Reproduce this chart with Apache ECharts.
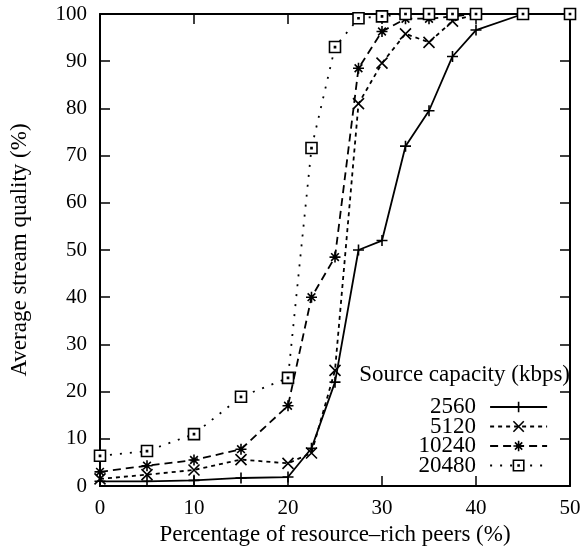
<!DOCTYPE html>
<html>
<head>
<meta charset="utf-8">
<script src="https://cdn.jsdelivr.net/npm/echarts@6/dist/echarts.min.js"></script>
<style>html,body{margin:0;padding:0;background:#fff}#c{width:587px;height:555px}</style>
</head>
<body>
<div id="c"></div>
<script>
const xValues = [0, 5, 10, 15, 20, 22.5, 25, 27.5, 30, 32.5, 35, 37.5, 40, 45, 50];
const s2560  = [1.0, 1.0, 1.2, 1.7, 1.9, 8.0, 22.0, 50.0, 52.0, 72.0, 79.5, 91.0, 96.6, 100, 100];
const s5120  = [1.5, 2.4, 3.4, 5.6, 4.8, 7.0, 24.5, 81.0, 89.6, 95.8, 94.0, 98.5, 100, 100, 100];
const s10240 = [3.0, 4.3, 5.5, 7.8, 17.0, 40.0, 48.5, 88.5, 96.3, 99.0, 99.0, 99.5, 100, 100, 100];
const s20480 = [6.4, 7.4, 11.0, 18.9, 22.9, 71.6, 93.0, 99.1, 99.5, 100, 100, 100, 100, 100, 100];
const seriesNames = ['2560', '5120', '10240', '20480'];
const xTicks = [0, 10, 20, 30, 40, 50];
const yTicks = [0, 10, 20, 30, 40, 50, 60, 70, 80, 90, 100];
const xTitle = 'Percentage of resource\u2013rich peers (%)';
const yTitle = 'Average stream quality (%)';
const legendTitle = 'Source capacity (kbps)';

const FONT = 'Liberation Serif';
const symbols = [
  'path://M0,5L10,5M5,0L5,10',
  'path://M0,0L10,10M10,0L0,10',
  'path://M0,5L10,5M5,0L5,10M1.5,1.5L8.5,8.5M8.5,1.5L1.5,8.5',
  'path://M0,0L10,0L10,10L0,10ZM4.5,4.5L5.5,4.5L5.5,5.5L4.5,5.5Z'
];
const dashes = ['solid', [4, 4], [8, 5], [2, 8]];
const allData = [s2560, s5120, s10240, s20480];

const chart = echarts.init(document.getElementById('c'), null, {renderer: 'canvas'});

const series = seriesNames.map((n, i) => ({
  name: n,
  type: 'line',
  data: xValues.map((x, j) => [x, allData[i][j]]),
  symbol: symbols[i],
  symbolSize: 11,
  clip: false,
  animation: false,
  lineStyle: {color: '#000', width: 1.8, type: dashes[i]},
  itemStyle: {color: '#fff', borderColor: '#000', borderWidth: 1.6},
  emphasis: {disabled: true}
}));

const legendCenters = [407, 426.5, 446, 465.5];
const legends = seriesNames.map((n, i) => ({
  data: [n],
  orient: 'horizontal',
  align: 'right',
  right: 39,
  top: legendCenters[i] - 11.5,
  padding: 0,
  itemWidth: 57,
  itemHeight: 13,
  selectedMode: false,
  textStyle: {fontFamily: FONT, fontSize: 23, color: '#000', padding: [0, 9, 0, 0]},
  lineStyle: {color: '#000', width: 1.8, type: dashes[i]},
  itemStyle: {color: '#fff', borderColor: '#000', borderWidth: 1.6}
}));

const axisCommon = {
  type: 'value',
  axisLine: {show: true, onZero: false, lineStyle: {color: '#000', width: 2}},
  axisTick: {show: true, inside: true, length: 10, lineStyle: {color: '#000', width: 1.5}},
  splitLine: {show: false},
  axisLabel: {fontFamily: FONT, fontSize: 21, color: '#000'}
};

chart.setOption({
  animation: false,
  backgroundColor: '#fff',
  grid: {left: 99, right: 17, top: 14, bottom: 69, containLabel: false},
  xAxis: [
    Object.assign({}, axisCommon, {
      position: 'bottom', min: 0, max: 50, interval: 10,
      name: xTitle, nameLocation: 'middle', nameGap: 37,
      nameTextStyle: {fontFamily: FONT, fontSize: 23, color: '#000'},
      axisLabel: Object.assign({}, axisCommon.axisLabel, {margin: 12, formatter: v => xTicks.includes(v) ? String(v) : ''})
    }),
    Object.assign({}, axisCommon, {
      position: 'top', min: 0, max: 50, interval: 10,
      axisLabel: {show: false}
    })
  ],
  yAxis: [
    Object.assign({}, axisCommon, {
      position: 'left', min: 0, max: 100, interval: 10,
      name: yTitle, nameLocation: 'middle', nameGap: 69,
      nameTextStyle: {fontFamily: FONT, fontSize: 23, color: '#000'},
      axisLabel: Object.assign({}, axisCommon.axisLabel, {margin: 13, formatter: v => yTicks.includes(v) ? String(v) : ''})
    }),
    Object.assign({}, axisCommon, {
      position: 'right', min: 0, max: 100, interval: 10,
      axisLabel: {show: false}
    })
  ],
  legend: legends,
  graphic: [{
    type: 'text',
    right: 17,
    top: 363,
    style: {text: legendTitle, font: '23px "' + FONT + '"', fill: '#000'}
  }],
  series: series
});
</script>
</body>
</html>
